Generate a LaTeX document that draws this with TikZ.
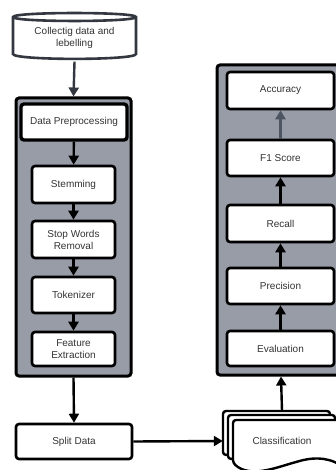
\documentclass[tikz,border=0pt]{standalone}
\usepackage{fontspec}
\setmainfont{Liberation Sans}
\usetikzlibrary{arrows.meta,calc}
\definecolor{panel}{HTML}{989CA6}
\definecolor{ink}{HTML}{333333}
\definecolor{slate}{HTML}{33373F}
\definecolor{steel}{HTML}{4D5563}
\begin{document}
\begin{tikzpicture}[x=1pt,y=-1pt,
  font=\fontsize{10}{12}\selectfont,
  stage/.style={draw=black, fill=white, line width=2.6pt, rounded corners=3pt,
    align=center, inner sep=0pt, text=ink},
  panelbox/.style={draw=black, fill=panel, line width=3pt, rounded corners=3pt, inner sep=0pt},
  docline/.style={draw=black, fill=white, line width=2.4pt, rounded corners=3pt},
  drum/.style={draw=slate, line width=2.6pt},
  flow/.style={line width=2.4pt, -{Triangle[length=9pt,width=10pt]}},
]
\useasboundingbox (0,0) rectangle (336,470);

% grey panels holding the two pipelines
\node[panelbox, minimum width=115pt, minimum height=278pt] (prep) at (73.5,237) {};
\node[panelbox, minimum width=128pt, minimum height=310pt] (metrics) at (281,220) {};

% data source (cylinder): body, lower rim and upper rim drawn with Bezier curves
\node[inner sep=0pt, minimum width=123pt, minimum height=39pt] (src) at (74.5,38) {};
\draw[flow, draw=slate, fill=slate] ([yshift=-4pt]src.south) -- (prep.north);
\draw[drum, fill=white]
  (13,17) -- (13,54)
  .. controls (13,60.5) and (136,60.5) .. (136,54)
  -- (136,17)
  .. controls (136,11.7) and (13,11.7) .. (13,17) -- cycle;
\draw[drum] (13,17) .. controls (13,22.3) and (136,22.3) .. (136,17);
\node[align=center, text=ink] at (src) {Collectig data and\\lebelling};

% preprocessing steps
\node[stage, line width=3.4pt, minimum width=106pt, minimum height=36pt] (dp) at (74,122) {Data Preprocessing};
\node[stage, minimum width=83pt, minimum height=37pt] (stem) at (73.5,184.5) {Stemming};
\node[stage, minimum width=83pt, minimum height=37pt] (stop) at (73.5,239.5) {Stop Words\\Removal};
\node[stage, minimum width=83pt, minimum height=36pt] (tok) at (73.5,295) {Tokenizer};
\node[stage, minimum width=83pt, minimum height=34pt] (feat) at (73.5,349) {Feature\\Extraction};

\draw[flow] (dp) -- (stem);
\draw[flow] (stem) -- (stop);
\draw[flow] (stop) -- (tok);
\draw[flow] (tok) -- (feat);

% split
\node[stage, minimum width=116pt, minimum height=35pt] (split) at (74,441.5) {Split Data};
\draw[flow] (prep.south) -- (split.north);

% classification (stack of documents)
\node[inner sep=0pt, minimum width=118pt, minimum height=60pt] (cls) at (282,441) {};
\draw[docline] (223,455) -- (223,411) -- (330,411) -- (330,452) -- (300,452) -- cycle;
\draw[docline] (228,459) -- (228,415) -- (335,415) -- (335,456) -- (300,456) -- cycle;
\draw[docline] (233,463) -- (233,420) -- (342,420) -- (342,466)
  .. controls (325,456) and (310,458) .. (296,462)
  .. controls (275,468) and (250,478) .. (233,463) -- cycle;
\node[text=ink] at (cls) {Classification};
\draw[flow] (split.east) -- (cls.west);
\draw[flow] (cls.north) -- (metrics.south);

% evaluation metrics
\node[stage, minimum width=107pt, minimum height=37pt] (acc) at (280.5,90.5) {Accuracy};
\node[stage, minimum width=107pt, minimum height=36pt] (f1) at (280.5,158) {F1 Score};
\node[stage, minimum width=107pt, minimum height=37pt] (rec) at (280.5,223.5) {Recall};
\node[stage, minimum width=107pt, minimum height=36pt] (prec) at (280.5,286) {Precision};
\node[stage, minimum width=107pt, minimum height=35pt] (eval) at (280.5,348.5) {Evaluation};

\draw[flow] (eval) -- (prec);
\draw[flow] (prec) -- (rec);
\draw[flow] (rec) -- (f1);
\draw[flow, draw=steel, fill=steel] (f1) -- (acc);
\end{tikzpicture}
\end{document}
